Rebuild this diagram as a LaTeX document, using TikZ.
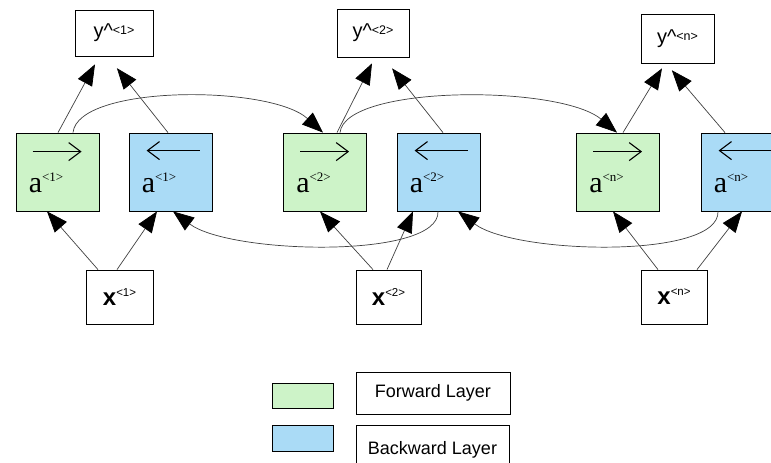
\documentclass[tikz,border=0pt]{standalone}
\usepackage{fontspec}
\setmainfont{Liberation Sans}
\newfontfamily\seriffont{Liberation Serif}
\usetikzlibrary{arrows.meta}
\definecolor{fwd}{RGB}{205,243,200}
\definecolor{bwd}{RGB}{170,219,246}
\newcommand{\fwdlabel}[2]{%
  \draw[overarrow] ([shift={(17,19)}]#1.north west) -- ++(49,0);
  \node[alabel] (#1-t) at ([shift={(13,60)}]#1.north west) {a\raisebox{11pt}{\fontsize{13}{13}\selectfont <#2>}};
}
\newcommand{\bwdlabel}[2]{%
  \draw[overarrow] ([shift={(71,18)}]#1.north west) -- ++(-53,0);
  \node[alabel] (#1-t) at ([shift={(13,60)}]#1.north west) {a\raisebox{11pt}{\fontsize{13}{13}\selectfont <#2>}};
}
\begin{document}
\begin{tikzpicture}[x=1pt,y=-1pt,
  box/.style={draw=black, line width=0.8pt, inner sep=0pt},
  ybox/.style={box, fill=white, font=\fontsize{20}{20}\selectfont},
  xbox/.style={box, fill=white, minimum height=54pt, font=\bfseries\fontsize{24}{24}\selectfont},
  fbox/.style={box, fill=fwd, minimum width=83pt, minimum height=78pt},
  bbox/.style={box, fill=bwd, minimum width=83pt, minimum height=78pt},
  alabel/.style={anchor=base west, inner sep=0pt, font=\seriffont\fontsize{30}{30}\selectfont},
  overarrow/.style={line width=1.1pt, -{Straight Barb[length=12pt,width=18pt]}},
  conn/.style={draw=black!75, line width=0.7pt, -{Triangle[length=21pt,width=16pt,color=black]}},
  legtext/.style={box, fill=white, minimum width=154pt, font=\fontsize{18}{18}\selectfont}
]
\fill[white] (0,0) rectangle (771,463);
\useasboundingbox (0,0) rectangle (771,463);

% output nodes
\node[ybox, minimum width=78pt, minimum height=46pt] (y1) at (114,33) {y\textasciicircum\raisebox{3pt}{\fontsize{12.5}{12.5}\selectfont <1>}};
\node[ybox, minimum width=72pt, minimum height=48pt] (y2) at (373,33) {y\textasciicircum\raisebox{3pt}{\fontsize{12.5}{12.5}\selectfont <2>}};
\node[ybox, minimum width=73pt, minimum height=49pt] (yn) at (677.5,38.5) {y\textasciicircum\raisebox{3pt}{\fontsize{12.5}{12.5}\selectfont <n>}};

% hidden layer nodes
\node[fbox] (ga1) at (57.5,172) {};
\node[bbox] (ba1) at (170.5,172) {};
\node[fbox] (ga2) at (325,172) {};
\node[bbox] (ba2) at (438.5,172) {};
\node[fbox] (gan) at (618,172) {};
\node[bbox] (ban) at (742.5,172) {};
\fwdlabel{ga1}{1}
\bwdlabel{ba1}{1}
\fwdlabel{ga2}{2}
\bwdlabel{ba2}{2}
\fwdlabel{gan}{n}
\bwdlabel{ban}{n}

% input nodes
\node[xbox, minimum width=67pt] (x1) at (119.5,297) {x\raisebox{9pt}{\mdseries\fontsize{11.5}{11.5}\selectfont <1>}};
\node[xbox, minimum width=65pt] (x2) at (388.5,297) {x\raisebox{9pt}{\mdseries\fontsize{11.5}{11.5}\selectfont <2>}};
\node[xbox, minimum width=66pt] (xn) at (674,297) {x\raisebox{9pt}{\mdseries\fontsize{11.5}{11.5}\selectfont <n>}};

% inputs to hidden
\draw[conn] ([xshift=-21.5pt]x1.north) -- ([xshift=-10.5pt]ga1.south);
\draw[conn] ([xshift=-2.5pt]x1.north) -- ([xshift=-13.5pt]ba1.south);
\draw[conn] ([xshift=-15.5pt]x2.north) -- ([xshift=-5pt]ga2.south);
\draw[conn] ([xshift=-1.5pt]x2.north) -- ([xshift=-25.5pt]ba2.south);
\draw[conn] ([xshift=-16pt]xn.north) -- ([xshift=-5pt]gan.south);
\draw[conn] ([xshift=23pt]xn.north) -- ([xshift=-0.5pt]ban.south);

% hidden to outputs
\draw[conn, shorten >=9pt] ([xshift=0.5pt]ga1.north) -- ([xshift=-14.7pt]y1.south);
\draw[conn, shorten >=15pt] ([xshift=-2.5pt]ba1.north) -- ([xshift=-6.4pt]y1.south);
\draw[conn, shorten >=6.7pt] ([xshift=12pt]ga2.north) -- ([xshift=2pt]y2.south);
\draw[conn, shorten >=14pt] ([xshift=4.5pt]ba2.north) -- ([xshift=10.4pt]y2.south);
\draw[conn, shorten >=5.8pt] ([xshift=5pt]gan.north) -- ([xshift=-12.5pt]yn.south);
\draw[conn, shorten >=9pt] ([xshift=-17.5pt]ban.north) -- ([xshift=-11.5pt]yn.south);

% forward recurrences
\draw[conn] ([xshift=15.5pt]ga1.north) .. controls +(5,-48) and +(-53,-48) .. ([xshift=-2pt]ga2.north);
\draw[conn] ([xshift=15pt]ga2.north) .. controls +(5,-48) and +(-57,-48) .. ([xshift=-1pt]gan.north);

% backward recurrences
\draw[conn] ([xshift=-0.5pt]ba2.south) .. controls +(2,48) and +(57,43) .. ([xshift=2.5pt]ba1.south);
\draw[conn] ([xshift=-24.5pt]ban.south) .. controls +(2,48) and +(57,43) .. ([xshift=19.5pt]ba2.south);

% legend
\node[box, fill=fwd, minimum width=61pt, minimum height=25pt] (lf) at (302.5,395.5) {};
\node[box, fill=bwd, minimum width=61pt, minimum height=26pt] (lb) at (302.5,438) {};
\node[legtext, minimum height=42pt] (lft) at (433,393) {Forward Layer};
\node[legtext, minimum height=50pt, minimum width=153pt] (lbt) at (432.5,450) {Backward Layer};
\end{tikzpicture}
\end{document}
